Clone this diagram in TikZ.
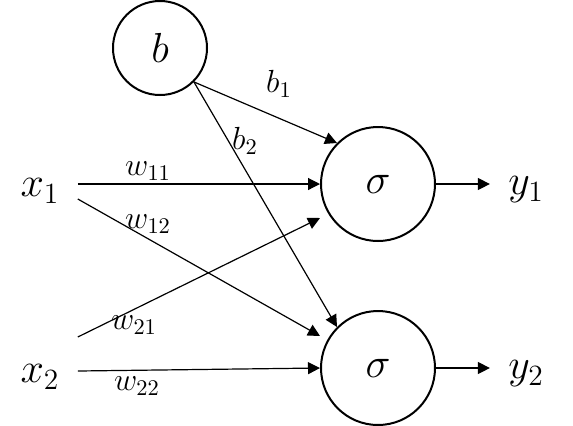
\documentclass[tikz,border=0pt]{standalone}
\usepackage{fix-cm}
\usetikzlibrary{arrows.meta}

\begin{document}
\begin{tikzpicture}[
    x=0.5pt,y=-0.5pt,
    unit/.style={draw,circle,line width=1pt,inner sep=0pt,font=\fontsize{21}{25}\selectfont},
    io/.style={inner xsep=9pt,inner ysep=0pt,font=\fontsize{21}{25}\selectfont},
    wlabel/.style={inner sep=0pt,font=\fontsize{16}{19}\selectfont},
    arr/.style={-{Triangle[length=6pt,width=6pt]},line width=0.6pt}
  ]
    \useasboundingbox (0,0) rectangle (573,425);

    % neurons
    \node[unit,minimum size=47pt] (b) at (160,48) {$b$};
    \node[unit,minimum size=57pt] (s1) at (378,184) {$\sigma$};
    \node[unit,minimum size=57pt] (s2) at (378,368) {$\sigma$};

    % inputs and outputs
    \node[io] (x1) at (40,191) {$x_1$};
    \node[io] (x2) at (40,377) {$x_2$};
    \node[io] (y1) at (526,190) {$y_1$};
    \node[io] (y2) at (526,374) {$y_2$};

    \draw[arr] (x1.east |- s1.west) -- (s1.west);
    \draw[arr] ([yshift=-4pt]x1.east) -- ([yshift=16pt]s2.west);
    \draw[arr] ([yshift=20pt]x2.east) -- ([yshift=-17pt]s1.west);
    \draw[arr] ([yshift=3pt]x2.east) -- (s2.west);
    \draw[arr] (b.south east) -- (s1.north west);
    \draw[arr] (b.south east) -- (s2.north west);
    \draw[arr] (s1.east) -- (s1.east -| y1.west);
    \draw[arr] (s2.east) -- (s2.east -| y2.west);

    % weights
    \node[wlabel] (w11) at (148,171) {$w_{11}$};
    \node[wlabel] (w12) at (148,224) {$w_{12}$};
    \node[wlabel] (w21) at (134,325) {$w_{21}$};
    \node[wlabel] (w22) at (137,386) {$w_{22}$};
    \node[wlabel] (b1) at (279,84) {$b_1$};
    \node[wlabel] (b2) at (245,141) {$b_2$};
\end{tikzpicture}
\end{document}
